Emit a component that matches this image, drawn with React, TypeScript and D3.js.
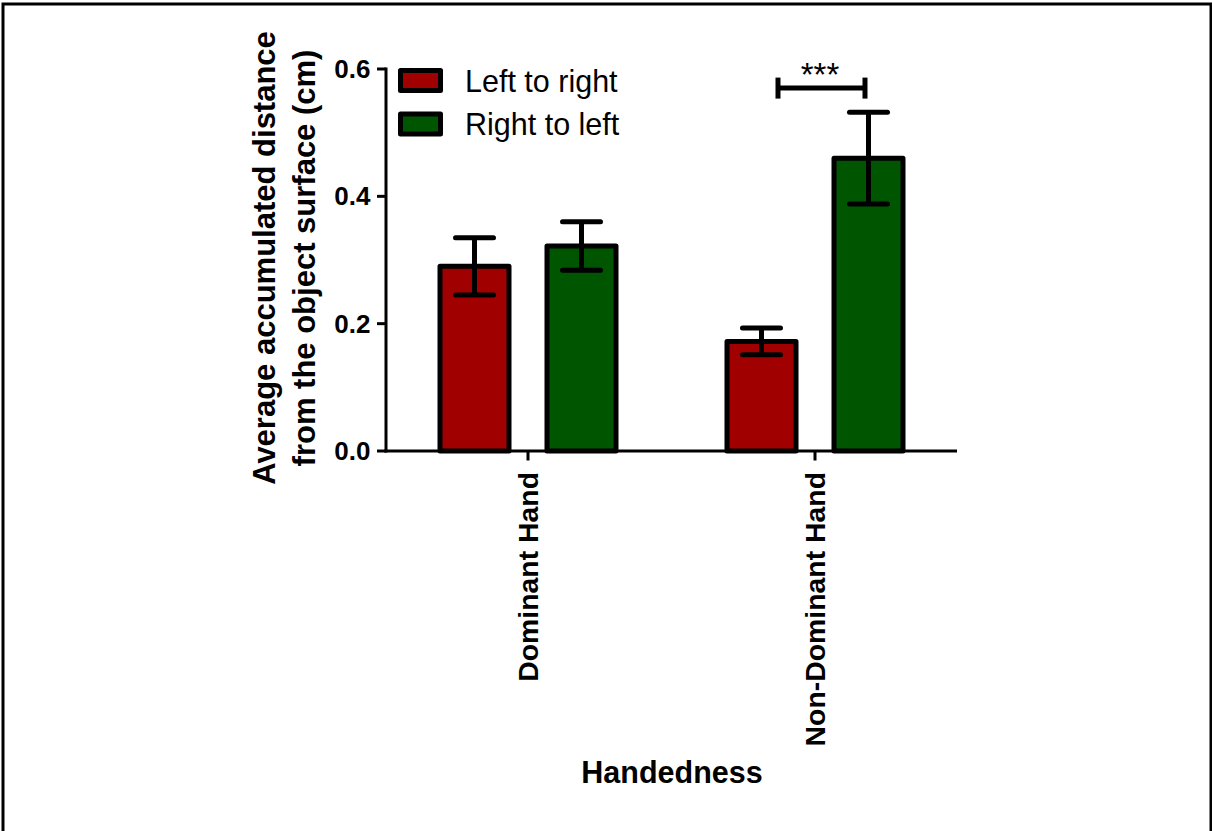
import React from "react";
import * as d3 from "d3";

const categories = ["Dominant Hand", "Non-Dominant Hand"];
const seriesNames = ["Left to right", "Right to left"];
const seriesColors = ["#a00000", "#005500"];
const leftToRight = [0.29, 0.172];
const leftToRightErr = [0.045, 0.021];
const rightToLeft = [0.322, 0.46];
const rightToLeftErr = [0.038, 0.072];
const yTicks = [0.0, 0.2, 0.4, 0.6];
const sigLabel = "***";
const sigLevel = 0.57;

const W = 1212;
const H = 831;
const FONT = "'Liberation Sans', Arial, Helvetica, sans-serif";

export default function App() {
  const y = d3.scaleLinear().domain([0, 0.6]).range([451, 69]);
  const x = d3.scalePoint<string>().domain(categories).range([386, 957]).padding(0.4948);
  const inner = d3
    .scaleBand<string>()
    .domain(seriesNames)
    .range([-88, 88])
    .paddingInner(38 / 107)
    .paddingOuter(0);
  const bw = inner.bandwidth();

  const series = [
    { name: seriesNames[0], values: leftToRight, errs: leftToRightErr, color: seriesColors[0] },
    { name: seriesNames[1], values: rightToLeft, errs: rightToLeftErr, color: seriesColors[1] },
  ];

  const ndX = x(categories[1]) as number;

  return (
    <svg
      width={W}
      height={H}
      style={{ position: "absolute", left: 0, top: 0, background: "#fff" }}
      fontFamily={FONT}
    >
      {/* border */}
      <path d={`M3,${H} V4 H1211 V${H}`} fill="none" stroke="#000" strokeWidth={3} />

      {/* bars */}
      {series.map((s) =>
        categories.map((c, i) => {
          const cx = (x(c) as number) + (inner(s.name) as number);
          const v = s.values[i];
          return (
            <rect
              key={s.name + c}
              x={cx}
              y={y(v)}
              width={bw}
              height={y(0) - y(v)}
              fill={s.color}
              stroke="#000"
              strokeWidth={5}
              strokeLinejoin="round"
            />
          );
        })
      )}

      {/* error bars */}
      {series.map((s) =>
        categories.map((c, i) => {
          const mx = (x(c) as number) + (inner(s.name) as number) + bw / 2;
          const v = s.values[i];
          const e = s.errs[i];
          return (
            <g key={"e" + s.name + c} stroke="#000" strokeWidth={5}>
              <line x1={mx} x2={mx} y1={y(v + e)} y2={y(v - e)} />
              <line x1={mx - 19} x2={mx + 19} y1={y(v + e)} y2={y(v + e)} strokeLinecap="round" />
              <line x1={mx - 19} x2={mx + 19} y1={y(v - e)} y2={y(v - e)} strokeLinecap="round" />
            </g>
          );
        })
      )}

      {/* axes */}
      <line x1={386} x2={386} y1={67.5} y2={452.5} stroke="#000" strokeWidth={3} />
      <line x1={384.5} x2={957} y1={451} y2={451} stroke="#000" strokeWidth={3} />
      {yTicks.map((t) => (
        <g key={t}>
          <line x1={377} x2={386} y1={y(t)} y2={y(t)} stroke="#000" strokeWidth={3} />
          <text
            x={370.5}
            y={y(t)}
            dy="0.35em"
            textAnchor="end"
            fontSize={26}
            fontWeight="bold"
          >
            {t.toFixed(1)}
          </text>
        </g>
      ))}
      {categories.map((c) => (
        <g key={c}>
          <line x1={x(c)} x2={x(c)} y1={451} y2={460.5} stroke="#000" strokeWidth={3} />
          <text
            transform={`translate(${x(c)},472) rotate(-90)`}
            x={0}
            y={10}
            textAnchor="end"
            fontSize={28.4}
            fontWeight="bold"
          >
            {c}
          </text>
        </g>
      ))}

      {/* axis titles */}
      <text
        transform={`translate(275,258) rotate(-90)`}
        textAnchor="middle"
        fontSize={31}
        fontWeight="bold"
      >
        Average accumulated distance
      </text>
      <text
        transform={`translate(315,258) rotate(-90)`}
        textAnchor="middle"
        fontSize={31}
        fontWeight="bold"
      >
        from the object surface (cm)
      </text>
      <text x={672} y={783} textAnchor="middle" fontSize={30.5} fontWeight="bold">
        Handedness
      </text>

      {/* legend */}
      {series.map((s, i) => (
        <g key={"lg" + s.name}>
          <rect
            x={400.5}
            y={70.5 + i * 43.5}
            width={40}
            height={20}
            fill={s.color}
            stroke="#000"
            strokeWidth={5}
            strokeLinejoin="round"
          />
          <text x={465} y={91.7 + i * 43.5} fontSize={30.5}>
            {s.name}
          </text>
        </g>
      ))}

      {/* significance */}
      <g stroke="#000" strokeWidth={5}>
        <line x1={ndX - 37} x2={ndX + 50} y1={y(sigLevel)} y2={y(sigLevel)} />
        <line x1={ndX - 37} x2={ndX - 37} y1={y(sigLevel) - 10.5} y2={y(sigLevel) + 10.5} />
        <line x1={ndX + 50} x2={ndX + 50} y1={y(sigLevel) - 10.5} y2={y(sigLevel) + 10.5} />
      </g>
      <text x={ndX + 5} y={86} textAnchor="middle" fontSize={33}>
        {sigLabel}
      </text>
    </svg>
  );
}
